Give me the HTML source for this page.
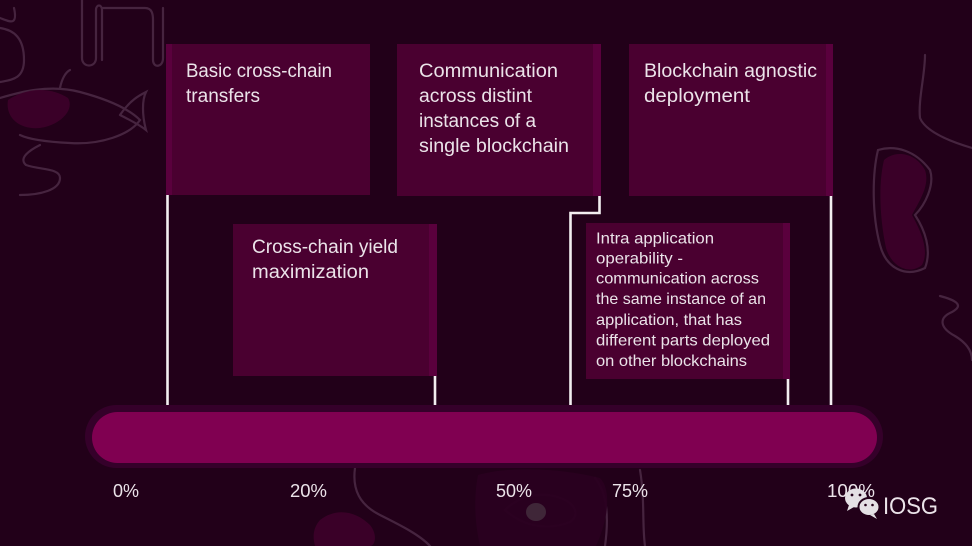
<!DOCTYPE html>
<html><head><meta charset="utf-8"><style>
html,body{margin:0;padding:0;background:#220019;}
svg{display:block;}
text{font-family:"Liberation Sans",sans-serif;fill:#ebe3e9;}
</style></head><body>
<svg width="972" height="546" viewBox="0 0 972 546" xmlns="http://www.w3.org/2000/svg">
<rect x="0" y="0" width="972" height="546" fill="#220019"/>
<!-- decorative faint line art -->
<g fill="none" stroke="#4a2844" stroke-width="2.2" stroke-linecap="round" opacity="0.9">
  <path d="M0,18 C10,22 18,26 14,8 M0,28 C14,30 24,38 24,60 C24,80 10,80 0,82"/>
  <path d="M82,0 L82,58 C82,68 96,68 96,58 L96,10 C96,4 102,4 102,10 L102,60"/>
  <path d="M103,8 L145,8 C152,8 153,14 153,20 L153,60 C153,68 163,68 163,58 L163,8"/>
  <path d="M0,98 C20,92 50,84 80,92 C110,100 130,110 140,120 C130,135 100,145 70,143 C50,142 30,140 20,135"/>
  <path d="M120,115 C130,100 140,95 146,92 C142,100 142,115 146,130 C140,125 130,120 120,115"/>
  <path d="M40,145 C30,150 18,158 26,165 C40,170 60,168 60,178 C60,190 40,195 20,195"/>
  <path d="M60,88 C62,78 66,72 70,70"/>
  <path d="M925,55 C925,75 918,100 920,118 C925,130 945,140 972,148"/>
  <path d="M878,150 C872,175 872,215 880,245 C886,268 905,278 925,268 C932,250 925,230 915,215 C925,205 935,185 930,170 C915,150 895,145 878,150 Z"/>
  <path d="M940,296 C955,300 965,305 952,312 C938,318 940,328 955,336 C965,342 972,350 972,360"/>
  <path d="M355,468 C352,490 360,505 380,515 C400,525 420,535 430,546"/>
  <path d="M505,510 C520,495 545,490 565,500 C575,505 580,515 570,522 C550,530 525,528 505,510 Z"/>
  <path d="M595,478 C605,490 610,510 605,546"/>
  <path d="M640,470 C645,500 642,525 645,546"/>
</g>
<g fill="#3c0029" opacity="0.95">
  <path d="M8,100 C25,88 50,86 68,98 C75,110 60,125 40,128 C20,130 5,118 8,100 Z"/>
  <path d="M884,160 C895,150 915,152 925,170 C930,185 920,200 912,215 C920,230 930,250 922,265 C910,275 892,268 886,248 C880,220 878,185 884,160 Z"/>
  <path d="M320,520 C335,508 355,510 370,525 C378,535 375,546 370,546 L315,546 C312,535 314,527 320,520 Z"/>
  <path d="M478,475 C510,466 560,468 600,478 C612,490 608,520 596,546 L480,546 C474,520 474,495 478,475 Z" fill="#2a0020"/>
</g>
<ellipse cx="536" cy="512" rx="10" ry="9" fill="#45303f" opacity="0.8"/>

<!-- boxes -->
<rect x="166" y="44" width="204" height="151" fill="#4a0030"/>
<rect x="166" y="44" width="6" height="151" fill="#5a003d"/>
<rect x="397" y="44" width="204" height="152" fill="#4a0030"/>
<rect x="593" y="44" width="8" height="152" fill="#5a003d"/>
<rect x="629" y="44" width="204" height="152" fill="#4a0030"/>
<rect x="826" y="44" width="7" height="152" fill="#5a003d"/>
<rect x="233" y="224" width="204" height="152" fill="#4a0030"/>
<rect x="429" y="224" width="8" height="152" fill="#5a003d"/>
<rect x="586" y="223" width="204" height="156" fill="#4a0030"/>
<rect x="783" y="223" width="7" height="156" fill="#5a003d"/>

<!-- connector lines -->
<g stroke="#f2eef0" stroke-width="2.6" fill="none">
  <path d="M167.5,195 L167.5,407"/>
  <path d="M599.5,196 L599.5,213 L570.5,213 L570.5,407"/>
  <path d="M831,196 L831,407"/>
  <path d="M435,376 L435,407"/>
  <path d="M788,379 L788,407"/>
</g>

<!-- bar -->
<rect x="85" y="405" width="798" height="63" rx="31.5" fill="#35002a"/>
<rect x="92" y="412" width="785" height="51" rx="25.5" fill="#800051"/>

<!-- box texts -->
<g font-size="19">
  <text x="186" y="77" textLength="146" lengthAdjust="spacingAndGlyphs">Basic cross-chain</text>
  <text x="186" y="102" textLength="74" lengthAdjust="spacingAndGlyphs">transfers</text>
  <text x="419" y="77" textLength="139" lengthAdjust="spacingAndGlyphs">Communication</text>
  <text x="419" y="102" textLength="113" lengthAdjust="spacingAndGlyphs">across distint</text>
  <text x="419" y="127" textLength="117" lengthAdjust="spacingAndGlyphs">instances of a</text>
  <text x="419" y="152" textLength="150" lengthAdjust="spacingAndGlyphs">single blockchain</text>
  <text x="644" y="77" textLength="173" lengthAdjust="spacingAndGlyphs">Blockchain agnostic</text>
  <text x="644" y="102" textLength="106" lengthAdjust="spacingAndGlyphs">deployment</text>
  <text x="252" y="253" textLength="146" lengthAdjust="spacingAndGlyphs">Cross-chain yield</text>
  <text x="252" y="278" textLength="117" lengthAdjust="spacingAndGlyphs">maximization</text>
</g>
<g font-size="16">
  <text x="596" y="243.5" textLength="118" lengthAdjust="spacingAndGlyphs">Intra application</text>
  <text x="596" y="263.5" textLength="87" lengthAdjust="spacingAndGlyphs">operability -</text>
  <text x="596" y="283.5" textLength="163" lengthAdjust="spacingAndGlyphs">communication across</text>
  <text x="596" y="304" textLength="170" lengthAdjust="spacingAndGlyphs">the same instance of an</text>
  <text x="596" y="325" textLength="146" lengthAdjust="spacingAndGlyphs">application, that has</text>
  <text x="596" y="345.5" textLength="174" lengthAdjust="spacingAndGlyphs">different parts deployed</text>
  <text x="596" y="366" textLength="151" lengthAdjust="spacingAndGlyphs">on other blockchains</text>
</g>

<!-- percent labels -->
<g font-size="18">
  <text x="113" y="497" textLength="26" lengthAdjust="spacingAndGlyphs">0%</text>
  <text x="290" y="497" textLength="37" lengthAdjust="spacingAndGlyphs">20%</text>
  <text x="496" y="497" textLength="36" lengthAdjust="spacingAndGlyphs">50%</text>
  <text x="612" y="497" textLength="36" lengthAdjust="spacingAndGlyphs">75%</text>
  <text x="827" y="497" textLength="48" lengthAdjust="spacingAndGlyphs">100%</text>
</g>

<!-- wechat logo -->
<g>
  <ellipse cx="856" cy="498" rx="11" ry="9.5" fill="#e4e0e4"/>
  <path d="M849,505 L847,511 L854,507 Z" fill="#e4e0e4"/>
  <circle cx="852" cy="495" r="1.4" fill="#220019"/>
  <circle cx="860" cy="495" r="1.4" fill="#220019"/>
  <ellipse cx="869" cy="507" rx="10.5" ry="9" fill="#e4e0e4" stroke="#220019" stroke-width="2"/>
  <path d="M874,514 L877,519 L870,515 Z" fill="#e4e0e4"/>
  <circle cx="865.5" cy="505" r="1.3" fill="#220019"/>
  <circle cx="872.5" cy="505" r="1.3" fill="#220019"/>
</g>
<text x="883" y="514" font-size="24" textLength="55" lengthAdjust="spacingAndGlyphs">IOSG</text>
</svg>
</body></html>
